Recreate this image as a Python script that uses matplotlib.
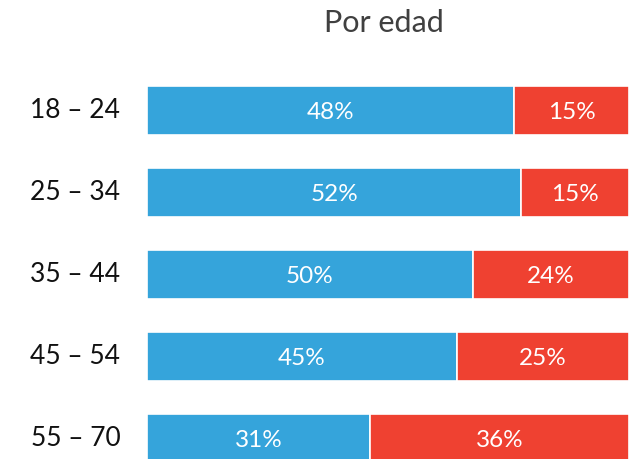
import matplotlib
matplotlib.use("Agg")
import matplotlib.pyplot as plt
import numpy as np

categories = ["18 – 24", "25 – 34", "35 – 44", "45 – 54", "55 – 70"]
blue_vals = [48, 52, 50, 45, 31]
red_vals = [15, 15, 24, 25, 36]

BLUE = "#35A4DB"
RED = "#EF4131"
FONT = ["Lato", "DejaVu Sans"]

W, H = 633, 459
fig = plt.figure(figsize=(W / 100, H / 100), dpi=100)
ax = fig.add_axes([147 / W, 0, (629 - 147) / W, 1])

b = np.array(blue_vals, float)
r = np.array(red_vals, float)
tot = b + r
bn = b / tot
rn = r / tot
y = np.arange(len(categories))
h = 49 / 82

ax.barh(y, bn, height=h, color=BLUE, edgecolor="white", linewidth=1.2)
ax.barh(y, rn, left=bn, height=h, color=RED, edgecolor="white", linewidth=1.2)

for i in range(len(categories)):
    ax.text(bn[i] / 2, y[i] + 0.02, f"{blue_vals[i]}%", ha="center", va="center",
            color="white", fontsize=17.5, family=FONT)
    ax.text(bn[i] + rn[i] / 2, y[i] + 0.02, f"{red_vals[i]}%", ha="center", va="center",
            color="white", fontsize=17.5, family=FONT)
    ax.text(-0.055, y[i], categories[i], ha="right", va="center",
            color="#111111", fontsize=19, family=FONT)

ax.set_xlim(0, 1)
ax.set_ylim((459 - 110.5) / 82, -110.5 / 82)
ax.axis("off")

fig.text(384 / W, 1 - 23 / H, "Por edad", ha="center", va="center",
         fontsize=22, color="#404040", family=FONT)

fig.savefig("out.png", dpi=100)
